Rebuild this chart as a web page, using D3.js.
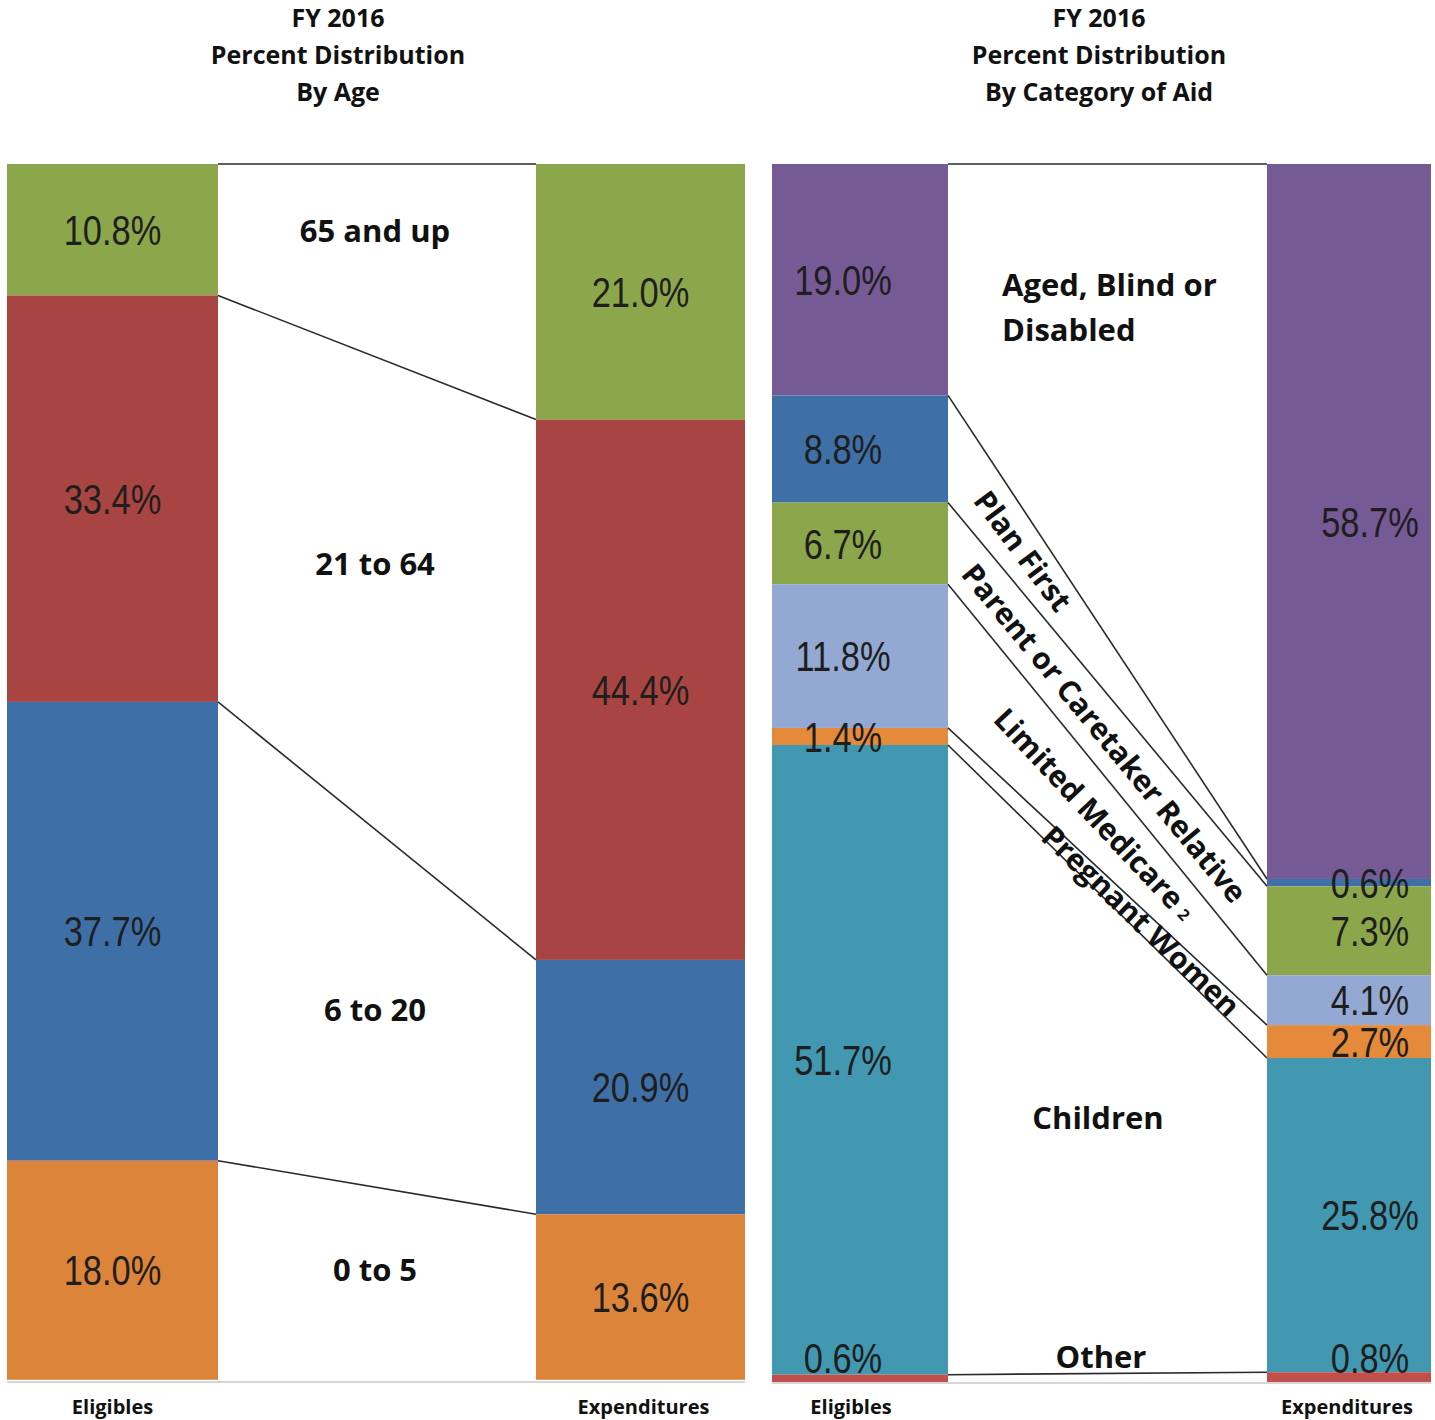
<!DOCTYPE html>
<html><head><meta charset="utf-8">
<script src="https://cdn.jsdelivr.net/npm/d3@7"></script>
<style>body{margin:0;background:#fff}</style>
</head><body>
<svg id="c" width="1435" height="1420"></svg>
<script>
// ---------- DATA ----------
const ageCategories = ["65 and up", "21 to 64", "6 to 20", "0 to 5"];
const ageEligibles = [10.8, 33.4, 37.7, 18.0];
const ageExpenditures = [21.0, 44.4, 20.9, 13.6];
const ageColors = ["#8ca64b", "#a84542", "#3e70a7", "#dc853a"];

const aidCategories = ["Aged, Blind or Disabled", "Plan First", "Parent or Caretaker Relative", "Limited Medicare", "Pregnant Women", "Children", "Other"];
const aidEligibles = [19.0, 8.8, 6.7, 11.8, 1.4, 51.7, 0.6];
const aidExpenditures = [58.7, 0.6, 7.3, 4.1, 2.7, 25.8, 0.8];
const aidColors = ["#765a95", "#3e70a7", "#8ca64b", "#93a9d3", "#e58a3b", "#4298b1", "#c24f4b"];

const columnLabels = ["Eligibles", "Expenditures"];
const ageTitle = ["FY 2016", "Percent Distribution", "By Age"];
const aidTitle = ["FY 2016", "Percent Distribution", "By Category of Aid"];

// ---------- DRAW ----------
const svg = d3.select("#c");
const valueFont = "'Liberation Sans',Arial,sans-serif";
const boldFont = "'Open Sans','Noto Sans',sans-serif";

function stack(vals) {
  let c = 0;
  return vals.map(v => { const s = c; c += v; return [s, c]; });
}

function drawChart(cfg) {
  const g = svg.append("g");
  const y = d3.scaleLinear().domain([0, 100]).range([cfg.top, cfg.bottom]);
  const L = cfg.left, R = cfg.right;
  const sL = stack(cfg.elig), sR = stack(cfg.exp);

  // title
  g.append("text").attr("x", cfg.titleX).attr("y", 18)
    .attr("text-anchor", "middle").attr("font-family", boldFont).attr("font-weight", 700)
    .attr("font-size", 25).attr("fill", "#111")
    .selectAll("tspan").data(cfg.title).join("tspan")
    .attr("x", cfg.titleX).attr("dy", (d, i) => i === 0 ? 9 : 37).text(d => d);

  // bars
  g.selectAll("rect.l").data(sL).join("rect")
    .attr("x", L[0]).attr("width", L[1] - L[0])
    .attr("y", d => y(d[0])).attr("height", d => y(d[1]) - y(d[0]))
    .attr("fill", (d, i) => cfg.colors[i]);
  g.selectAll("rect.r").data(sR).join("rect")
    .attr("x", R[0]).attr("width", R[1] - R[0])
    .attr("y", d => y(d[0])).attr("height", d => y(d[1]) - y(d[0]))
    .attr("fill", (d, i) => cfg.colors[i]);

  // connectors
  const bounds = [0].concat(sL.slice(0, -1).map(d => d[1]));
  const boundsR = [0].concat(sR.slice(0, -1).map(d => d[1]));
  g.selectAll("line.c").data(bounds).join("line")
    .attr("x1", L[1]).attr("x2", R[0])
    .attr("y1", d => y(d)).attr("y2", (d, i) => y(boundsR[i]))
    .attr("stroke", "#2a2a2a").attr("stroke-width", 1.6);
  g.append("line").attr("x1", L[0]).attr("x2", R[1])
    .attr("y1", y(100) + 1).attr("y2", y(100) + 1)
    .attr("stroke", "#c8c8c8").attr("stroke-width", 1.5);

  // value labels (condensed)
  const n = cfg.elig.length;
  const labelY = (s, i) => i === n - 1 && cfg.lastAbove ? y(100) - 24 : (y(s[0]) + y(s[1])) / 2;
  const addVals = (stk, vals, xc) => {
    g.append("g").selectAll("text").data(stk).join("text")
      .attr("transform", (d, i) => `translate(${xc},${labelY(d, i)}) scale(0.82,1)`)
      .attr("dy", "0.36em").attr("text-anchor", "middle")
      .attr("font-family", valueFont).attr("font-size", 42).attr("fill", "#1e1e1e")
      .text((d, i) => vals[i].toFixed(1) + "%");
  };
  addVals(sL, cfg.elig, (L[0] + L[1]) / 2 + cfg.lOff);
  addVals(sR, cfg.exp, (R[0] + R[1]) / 2 + cfg.rOff);

  // column labels
  g.selectAll("text.col").data(columnLabels).join("text")
    .attr("x", (d, i) => i === 0 ? (L[0] + L[1]) / 2 + cfg.colOff[0] : (R[0] + R[1]) / 2 + cfg.colOff[1])
    .attr("y", 1414).attr("text-anchor", "middle")
    .attr("font-family", boldFont).attr("font-weight", 700).attr("font-size", 20).attr("fill", "#111")
    .text(d => d);

  return { g, y, sL, sR };
}

// ---- Chart 1: By Age ----
const c1 = drawChart({
  title: ageTitle, titleX: 338, top: 164, bottom: 1381,
  left: [7, 218], right: [536, 745],
  elig: ageEligibles, exp: ageExpenditures, colors: ageColors,
  lOff: 0, rOff: 0, colOff: [0, 3], lastAbove: false
});
{
  const { g, y, sL, sR } = c1;
  const mid = 375, f = (mid - 218) / (536 - 218);
  const adj = [-30, -29, 2, -14];
  g.selectAll("text.cat").data(ageCategories).join("text")
    .attr("x", mid)
    .attr("y", (d, i) => {
      const yu = y(sL[i][0]) + f * (y(sR[i][0]) - y(sL[i][0]));
      const yl = y(sL[i][1]) + f * (y(sR[i][1]) - y(sL[i][1]));
      return (yu + yl) / 2 + adj[i];
    })
    .attr("dy", "0.36em").attr("text-anchor", "middle")
    .attr("font-family", boldFont).attr("font-weight", 700).attr("font-size", 31).attr("fill", "#111")
    .text(d => d);
}

// ---- Chart 2: By Category of Aid ----
const c2 = drawChart({
  title: aidTitle, titleX: 1099, top: 164, bottom: 1382,
  left: [772, 948], right: [1267, 1431],
  elig: aidEligibles, exp: aidExpenditures, colors: aidColors,
  lOff: -17, rOff: 21, colOff: [-9, -2], lastAbove: true
});
{
  const { g, y, sL, sR } = c2;
  const xa = 948, xb = 1267;
  // first category: two lines left aligned
  g.append("text").attr("font-family", boldFont).attr("font-weight", 700).attr("font-size", 31).attr("fill", "#111")
    .selectAll("tspan").data(["Aged, Blind or", "Disabled"]).join("tspan")
    .attr("x", 1002).attr("y", (d, i) => (y(sL[0][0]) + y(sL[0][1])) / 2 + 16 + i * 45).text(d => d);

  // diagonal labels for middle categories
  const fracs = [0.235, 0.49, 0.46, 0.605];
  [1, 2, 3, 4].forEach((ci, k) => {
    const f = fracs[k];
    const u0 = y(sL[ci][0]), u1 = y(sR[ci][0]), l0 = y(sL[ci][1]), l1 = y(sR[ci][1]);
    const cx = xa + f * (xb - xa);
    const cy = ((u0 + f * (u1 - u0)) + (l0 + f * (l1 - l0))) / 2;
    const a1 = Math.atan2(u1 - u0, xb - xa), a2 = Math.atan2(l1 - l0, xb - xa);
    const ang = ((a1 + a2) / 2) * 180 / Math.PI;
    const t = g.append("text")
      .attr("transform", `translate(${cx},${cy}) rotate(${ang})`)
      .attr("text-anchor", "middle").attr("dy", "0.36em")
      .attr("font-family", boldFont).attr("font-weight", 700).attr("font-size", 30).attr("fill", "#111");
    t.append("tspan").text(aidCategories[ci]);
    if (ci === 3) t.append("tspan").attr("font-size", 16).attr("dx", 7).attr("dy", "-0.1em").text("2");
  });

  // Children
  const fc = 0.47;
  const cu = y(sL[5][0]) + fc * (y(sR[5][0]) - y(sL[5][0]));
  const cl = y(sL[5][1]) + fc * (y(sR[5][1]) - y(sL[5][1]));
  g.append("text").attr("x", 1098).attr("y", (cu + cl) / 2 - 15).attr("dy", "0.36em")
    .attr("text-anchor", "middle").attr("font-family", boldFont).attr("font-weight", 700)
    .attr("font-size", 31).attr("fill", "#111").text(aidCategories[5]);
  // Other
  g.append("text").attr("x", 1101).attr("y", y(sL[6][0]) - 18).attr("dy", "0.36em")
    .attr("text-anchor", "middle").attr("font-family", boldFont).attr("font-weight", 700)
    .attr("font-size", 31).attr("fill", "#111").text(aidCategories[6]);
}
</script>
</body></html>
